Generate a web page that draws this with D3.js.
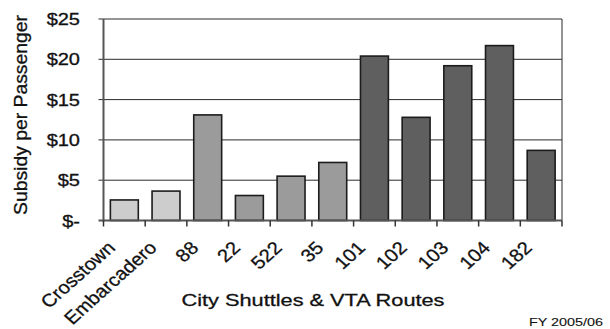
<!DOCTYPE html>
<html lang="en">
<head>
    <meta charset="UTF-8">
    <title>Subsidy per Passenger</title>
    <script src="https://cdn.jsdelivr.net/npm/d3@7"></script>
    <style>
        body { margin: 0; background: #fff; }
        text { font-family: "Liberation Sans", Arial, sans-serif; fill: #111; stroke: #111; stroke-width: 0.3; }
    </style>
</head>
<body>
    <script>
        // data
        const routes = ["Crosstown", "Embarcadero", "88", "22", "522", "35", "101", "102", "103", "104", "182"];
        const subsidy = [2.55, 3.65, 13.1, 3.1, 5.5, 7.2, 20.4, 12.8, 19.2, 21.7, 8.7];
        const routeGroup = ["shuttle", "shuttle", "community", "community", "community", "community",
            "express", "express", "express", "express", "express"];
        const yTicks = [0, 5, 10, 15, 20, 25];
        const yTickLabels = ["$-", "$5", "$10", "$15", "$20", "$25"];

        const width = 610, height = 329;
        const plot = { left: 103.5, right: 562, top: 19, bottom: 220.5 };
        const stretch = 1.12; // text in the source is a bit wider than normal

        let svg = d3.select("body").append("svg")
            .attr("width", width)
            .attr("height", height);

        let x = d3.scaleBand()
            .domain(routes)
            .range([plot.left, plot.right])
            .paddingInner(0.33)
            .paddingOuter(0.165);

        let y = d3.scaleLinear()
            .domain([0, 25])
            .range([plot.bottom, plot.top]);

        let color = d3.scaleOrdinal()
            .domain(["shuttle", "community", "express"])
            .range(["#cdcdcd", "#9b9b9b", "#5f5f5f"]);

        // gridlines, with the small tick stub left of the axis
        svg.append("g")
            .selectAll("line")
            .data(yTicks.filter(d => d > 0))
            .enter()
            .append("line")
            .attr("x1", plot.left - 5)
            .attr("x2", plot.right)
            .attr("y1", d => y(d))
            .attr("y2", d => y(d))
            .attr("stroke", "#2a2a2a")
            .attr("stroke-width", 1);

        // right border of plot area
        svg.append("line")
            .attr("x1", plot.right).attr("x2", plot.right)
            .attr("y1", plot.top).attr("y2", plot.bottom)
            .attr("stroke", "#2a2a2a");

        // bars
        svg.append("g")
            .selectAll("rect")
            .data(routes)
            .enter()
            .append("rect")
            .attr("x", d => x(d))
            .attr("width", x.bandwidth())
            .attr("y", (d, i) => y(subsidy[i]))
            .attr("height", (d, i) => y(0) - y(subsidy[i]))
            .attr("fill", (d, i) => color(routeGroup[i]))
            .attr("stroke", "#1c1c1c")
            .attr("stroke-width", 1.6);

        // axes lines
        svg.append("line")
            .attr("x1", plot.left).attr("x2", plot.left)
            .attr("y1", plot.top).attr("y2", plot.bottom + 1)
            .attr("stroke", "#555").attr("stroke-width", 2);
        svg.append("line")
            .attr("x1", plot.left - 5).attr("x2", plot.right)
            .attr("y1", plot.bottom).attr("y2", plot.bottom)
            .attr("stroke", "#555").attr("stroke-width", 2);

        // x ticks at band boundaries
        let boundaries = routes.map(d => x(d) - x.step() * x.paddingInner() / 2);
        boundaries.push(plot.right);
        svg.append("g")
            .selectAll("line")
            .data(boundaries)
            .enter()
            .append("line")
            .attr("x1", d => d).attr("x2", d => d)
            .attr("y1", plot.bottom).attr("y2", plot.bottom + 6)
            .attr("stroke", "#333").attr("stroke-width", 1.5);

        // y tick labels
        svg.append("g")
            .selectAll("text")
            .data(yTicks)
            .enter()
            .append("text")
            .attr("transform", d => `translate(80, ${y(d) + 6}) scale(1.25, 1)`)
            .attr("text-anchor", "end")
            .style("font-size", "16px")
            .text((d, i) => yTickLabels[i]);

        // rotated route labels
        svg.append("g")
            .selectAll("text")
            .data(routes)
            .enter()
            .append("text")
            .attr("transform", d => `translate(${x(d) + x.bandwidth() / 2 - 8}, 249) scale(${stretch}, 1) rotate(-45)`)
            .attr("text-anchor", "end")
            .style("font-size", "18px")
            .text(d => d);

        // axis titles
        svg.append("text")
            .attr("x", 313)
            .attr("y", 306)
            .attr("text-anchor", "middle")
            .attr("textLength", 263)
            .attr("lengthAdjust", "spacingAndGlyphs")
            .style("font-size", "17px")
            .text("City Shuttles & VTA Routes");

        svg.append("text")
            .attr("transform", `translate(27, 115) rotate(-90)`)
            .attr("text-anchor", "middle")
            .attr("textLength", 200)
            .attr("lengthAdjust", "spacingAndGlyphs")
            .style("font-size", "18.5px")
            .text("Subsidy per Passenger");

        svg.append("text")
            .attr("x", 603)
            .attr("y", 326)
            .attr("text-anchor", "end")
            .attr("textLength", 74)
            .attr("lengthAdjust", "spacingAndGlyphs")
            .style("font-size", "11px")
            .style("stroke-width", 0.1)
            .text("FY 2005/06");
    </script>
</body>
</html>
